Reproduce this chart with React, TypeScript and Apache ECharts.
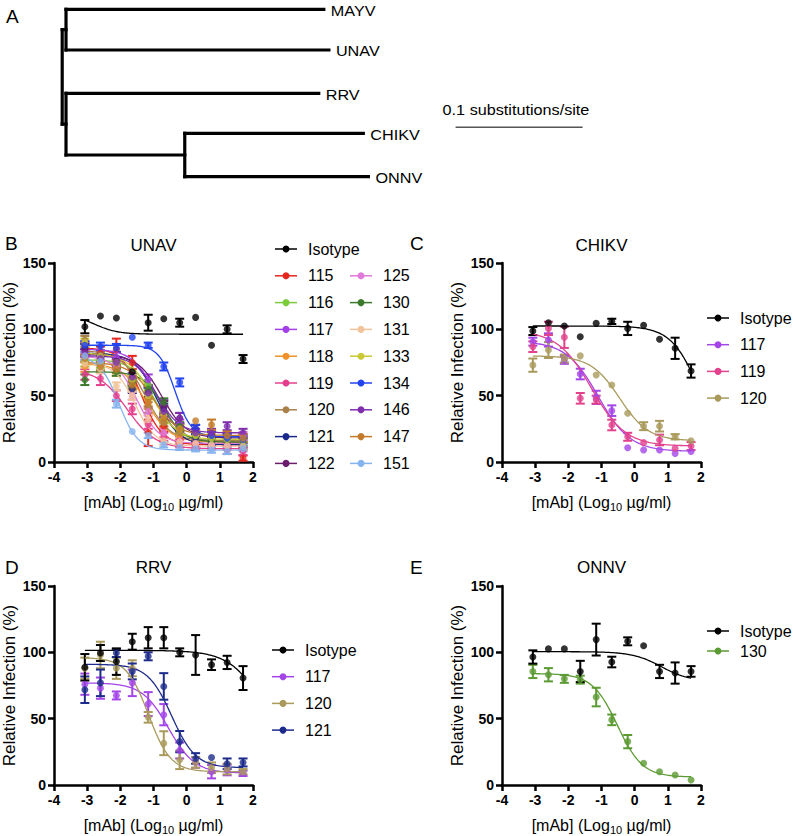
import React, { useEffect, useRef } from 'react';
import * as echarts from 'echarts';

const FONT = '"Liberation Sans", Arial, Helvetica, sans-serif';

// 3-fold dilution series, log10(µg/ml)
const doses = [-3.07, -2.6, -2.12, -1.64, -1.16, -0.69, -0.21, 0.27, 0.75, 1.22, 1.7];

// ---------- Panel B : UNAV ----------
const unavNames = ['Isotype', '115', '116', '117', '118', '119', '120', '121', '122', '125', '130', '131', '133', '134', '146', '147', '151'];
const unavColors = ['#000000', '#e5261f', '#7ccb3c', '#a33fe6', '#f0922b', '#e43f8d', '#a8814a', '#1b2a8a', '#6b1d6b', '#e07ad8', '#3b7a2a', '#f2c49c', '#c9c934', '#2244f0', '#7f2fae', '#c47a2a', '#86b4ee'];
const unavValues = [
  [102, 110, 108.5, 68, 105, 108, 105, 109, 88, 100, 77.6],
  [85, 82, 85, 75, 22, 27, 17, 14, 19, 13, 3],
  [76, 75, 73, 61, 58, 32, 23, 20, 18, 16, 13.6],
  [88, 80, 79, 63, 62, 42, 28, 18, 16, 15, 14],
  [72, 73, 69, 57, 44, 30, 20, 18, 15, 16, 15],
  [66, 63, 50, 40, 28, 19, 14, 12, 13, 9, 8],
  [92, 77, 73, 60, 41, 30, 22, 18, 17, 16, 15],
  [86, 80, 76, 55, 52, 40, 26, 18, 15, 13, 12],
  [84, 79, 76, 62, 53, 42, 33, 25, 20, 18, 18],
  [80, 78, 72, 50, 38, 22, 16, 14, 12, 13, 19.6],
  [62, 70, 68, 60, 55, 45, 27, 20, 17, 16, 15],
  [74, 70, 57, 50, 32, 16, 15, 14, 13, 12, 12],
  [90, 80, 75, 62, 50, 35, 25, 20, 18, 17, 17],
  [88, 87, 86, 94, 88, 72, 60, 25, 20, 18, 17],
  [82, 78, 75, 64, 52, 38, 33, 22, 22, 27, 22],
  [78, 72, 70, 58, 45, 33, 25, 31, 28, 20, 18],
  [80, 76, 44, 23, 20, 13, 11, 10, 9, 8, 10],
];
const unavErrors = [
  [5, 0, 0, 0, 6, 0, 3, 0, 0, 3, 3],
  [5, 5, 8, 5, 10, 4, 3, 3, 4, 3, 2],
  [4, 4, 3, 4, 4, 3, 3, 3, 3, 3, 3],
  [3, 4, 4, 4, 4, 5, 4, 3, 3, 3, 3],
  [4, 4, 4, 3, 4, 4, 3, 3, 3, 3, 3],
  [4, 5, 4, 4, 3, 3, 3, 3, 3, 3, 3],
  [3, 3, 3, 3, 4, 3, 3, 3, 3, 3, 3],
  [3, 3, 3, 3, 4, 4, 3, 3, 3, 3, 3],
  [3, 3, 3, 3, 4, 4, 4, 3, 3, 3, 3],
  [3, 3, 3, 3, 3, 3, 3, 3, 3, 3, 3],
  [4, 3, 3, 3, 3, 3, 3, 3, 3, 3, 3],
  [3, 3, 3, 3, 3, 3, 3, 3, 3, 3, 3],
  [3, 3, 3, 3, 3, 3, 3, 3, 3, 3, 3],
  [3, 3, 3, 0, 2, 3, 3, 3, 3, 3, 3],
  [3, 3, 3, 3, 4, 4, 4, 3, 3, 3, 3],
  [3, 3, 3, 3, 3, 3, 3, 0, 4, 3, 3],
  [3, 3, 3, 0, 2, 2, 2, 2, 2, 2, 2],
];
// fitted curve parameters [top, bottom, logIC50, hill]
const unavFits = [
  [112, 96.3, -2.8, 1.2],
  [86, 13, -1.35, 1.4],
  [77, 16, -0.95, 1.3],
  [85, 15, -0.9, 1.2],
  [74, 15, -1.2, 1.2],
  [70, 10, -1.8, 1.0],
  [84, 16, -1.25, 1.2],
  [82, 13, -0.9, 1.3],
  [81, 18, -0.75, 1.2],
  [80, 14, -1.5, 1.3],
  [68, 15, -0.7, 1.4],
  [75, 12, -1.55, 1.4],
  [82, 17, -1.05, 1.2],
  [88, 19, -0.35, 1.8],
  [80, 22, -0.9, 1.3],
  [75, 20, -1.0, 1.2],
  [80, 9, -2.05, 1.5],
];

// ---------- Panel C : CHIKV ----------
const chikvNames = ['Isotype', '117', '119', '120'];
const chikvColors = ['#000000', '#a445e8', '#e2418c', '#a99a5c'];
const chikvValues = [
  [98.7, 105, 102.5, 94.4, 104.5, 106, 100.7, 103, 92.5, 85.7, 68.6],
  [90.7, 92, 77, 66.3, 48.7, 38.7, 10.8, 9, 9, 6.5, 8],
  [86.9, 100.7, 94, 48, 47, 27.9, 19, 14.6, 16.6, 10.3, 12],
  [73, 84.4, 78, 80, 65.6, 58, 36.7, 27, 27, 19, 16],
];
const chikvErrors = [
  [3, 0, 0, 0, 0, 2, 5, 0, 0, 8, 5],
  [3, 5, 3, 4, 5, 4, 0, 0, 0, 0, 0],
  [4, 5, 8, 4, 3, 4, 3, 0, 4, 0, 3],
  [5, 6, 3, 0, 0, 0, 0, 3, 4, 2, 0],
];
const chikvFits = [
  [102.5, 0, 2.0, 1.0],
  [91, 8, -1.1, 0.9],
  [99, 12, -1.3, 0.85],
  [80, 16, -0.45, 1.0],
];

// ---------- Panel D : RRV ----------
const rrvNames = ['Isotype', '117', '120', '121'];
const rrvColors = ['#000000', '#a445e8', '#a99a5c', '#1d2c8a'];
const rrvValues = [
  [88.7, 99.5, 93, 108, 111, 111, 100, 98, 90.7, 92.4, 80.6],
  [76, 73, 67.5, 77, 61, 53, 26, 17, 10, 11.3, 8.8],
  [88, 98, 88, 88, 51, 31.5, 19, 17, 13, 12, 10],
  [71.8, 77, 99.5, 85.6, 97, 74.3, 32.7, 20, 20.7, 16, 17],
];
const rrvErrors = [
  [10, 6, 10, 6, 8, 8, 3, 15, 4, 5, 9],
  [8, 8, 3, 10, 9, 8, 6, 4, 5, 4, 2],
  [8, 10, 8, 6, 4, 9, 7, 4, 4, 4, 2],
  [10, 10, 3, 6, 3, 10, 8, 4, 0, 4, 3],
];
const rrvFits = [
  [101.5, 0, 2.5, 0.8],
  [77, 9, -0.55, 1.1],
  [96, 10, -1.15, 1.3],
  [91, 13, -0.45, 1.2],
];

// ---------- Panel E : ONNV ----------
const onnvNames = ['Isotype', '130'];
const onnvColors = ['#000000', '#5c9a33'];
const onnvValues = [
  [96.5, 102.6, 102.6, 85.6, 109.6, 92.7, 108.3, 105, 85.6, 84.4, 85.6],
  [85.6, 83.1, 80, 79.4, 66.3, 49.1, 32.7, 16.4, 10, 7.6, 3.8],
];
const onnvErrors = [
  [5, 0, 0, 8, 12, 4, 3, 0, 5, 8, 4],
  [5, 5, 3, 3, 7, 4, 5, 0, 0, 0, 0],
];
const onnvFits = [
  [100.5, 78, 0.8, 1.0],
  [84, 6, -0.52, 1.15],
];

// ---------- Panel A : tree (branch lengths, substitutions/site) ----------
const treeTaxa = ['MAYV', 'UNAV', 'RRV', 'CHIKV', 'ONNV'];
const treeTerminal = [0.203, 0.207, 0.199, 0.1406, 0.1446];
const treeCladeStem = 0.003;
const treeChikOnnInternal = 0.0935;
const treeScaleBar = 0.1;

const xTicks = [-4, -3, -2, -1, 0, 1, 2];
const yTicks = [0, 50, 100, 150];

function fit4pl(x: number, p: number[]) {
  const [top, bottom, ic50, hill] = p;
  return bottom + (top - bottom) / (1 + Math.pow(10, (x - ic50) * hill));
}

const curveX = Array.from({ length: 121 }, (_, i) => doses[0] + ((doses[doses.length - 1] - doses[0]) * i) / 120);

function errRender(color: string) {
  return (params: any, api: any) => {
    const x = api.value(0);
    const y = api.value(1);
    const e = api.value(2);
    if (!e) return { type: 'group', children: [] };
    const t = api.coord([x, y + e]);
    const b = api.coord([x, y - e]);
    const hw = 4.5;
    const st = { stroke: color, lineWidth: 2 };
    return {
      type: 'group',
      children: [
        { type: 'line', shape: { x1: t[0], y1: t[1], x2: b[0], y2: b[1] }, style: st },
        { type: 'line', shape: { x1: t[0] - hw, y1: t[1], x2: t[0] + hw, y2: t[1] }, style: st },
        { type: 'line', shape: { x1: b[0] - hw, y1: b[1], x2: b[0] + hw, y2: b[1] }, style: st },
      ],
    };
  };
}

function panelSeries(gi: number, names: string[], colors: string[], values: number[][], errors: number[][], fits: number[][]) {
  const out: any[] = [];
  const order = names.map((_, i) => i).slice(1).concat([0]);
  order.forEach((i) => {
    const color = colors[i];
    out.push({
      type: 'line', name: names[i] + ' fit', xAxisIndex: gi, yAxisIndex: gi, silent: true,
      data: curveX.map((x) => [x, fit4pl(x, fits[i])]),
      showSymbol: false, symbol: 'none', lineStyle: { color, width: 1.3 }, z: 2,
    });
    out.push({
      type: 'custom', name: names[i] + ' sem', xAxisIndex: gi, yAxisIndex: gi, silent: true,
      data: doses.map((d, k) => [d, values[i][k], errors[i][k]]),
      encode: { x: 0, y: 1 }, renderItem: errRender(color), z: 2,
    });
    out.push({
      type: 'scatter', name: names[i], xAxisIndex: gi, yAxisIndex: gi, silent: true,
      data: doses.map((d, k) => [d, values[i][k]]),
      symbol: 'circle', symbolSize: 7, itemStyle: { color }, z: 2,
    });
  });
  return out;
}

function legendGraphic(names: string[], colors: string[], x0: number, y0: number, dy: number, perCol: number, dx: number) {
  const els: any[] = [];
  names.forEach((n, i) => {
    const col = Math.floor(i / perCol);
    const row = i % perCol + (col > 0 ? 1 : 0);
    const x = x0 + col * dx;
    const y = y0 + row * dy;
    els.push({ type: 'line', shape: { x1: x, y1: y, x2: x + 22, y2: y }, style: { stroke: colors[i], lineWidth: 1.5 } });
    els.push({ type: 'circle', shape: { cx: x + 11, cy: y, r: 3.5 }, style: { fill: colors[i] } });
    els.push({ type: 'text', x: x + 33, y, style: { text: n, fontSize: 16, fontFamily: FONT, fill: '#000', verticalAlign: 'middle', align: 'left' } });
  });
  return els;
}

function treeGraphic() {
  const pxPerUnit = 1270;
  const rootX = 62.2;
  const rows = [9.3, 50, 93.3, 133.3, 176.7];
  const cladeX = rootX + treeCladeStem * pxPerUnit;
  const subX = cladeX + treeChikOnnInternal * pxPerUnit;
  const starts = [cladeX, cladeX, cladeX, subX, subX];
  const st = { stroke: '#000', lineWidth: 3.2, lineCap: 'square' };
  const els: any[] = [];
  const seg = (x1: number, y1: number, x2: number, y2: number, s: any = st) =>
    els.push({ type: 'line', shape: { x1, y1, x2, y2 }, style: s });
  const subY = (rows[3] + rows[4]) / 2;
  const upMid = (rows[0] + rows[1]) / 2;
  const lowMid = (rows[2] + subY) / 2;
  seg(rootX, upMid, rootX, lowMid);
  seg(rootX, upMid, cladeX, upMid);
  seg(rootX, lowMid, cladeX, lowMid);
  seg(cladeX, rows[0], cladeX, rows[1]);
  seg(cladeX, rows[2], cladeX, subY);
  seg(cladeX, subY, subX, subY);
  seg(subX, rows[3], subX, rows[4]);
  treeTaxa.forEach((t, i) => {
    const end = starts[i] + treeTerminal[i] * pxPerUnit;
    seg(starts[i], rows[i], end, rows[i]);
    els.push({ type: 'text', x: end + 7, y: rows[i] + 1, scaleX: 1.08, style: { text: t, fontSize: 15, fontFamily: FONT, fill: '#000', verticalAlign: 'middle', align: 'left' } });
  });
  const sbX = 455.6;
  const sbY = 127.3;
  seg(sbX, sbY, sbX + treeScaleBar * pxPerUnit, sbY, { stroke: '#555', lineWidth: 1.6 });
  els.push({ type: 'text', x: 516, y: 110, scaleX: 1.08, style: { text: treeScaleBar + ' substitutions/site', fontSize: 15, fontFamily: FONT, fill: '#000', verticalAlign: 'middle', align: 'center' } });
  return els;
}

function buildOption() {
  const grids = [
    { left: 54, top: 263, width: 199, height: 199 },
    { left: 502, top: 263, width: 199, height: 199 },
    { left: 54, top: 586, width: 199, height: 199 },
    { left: 502, top: 586, width: 199, height: 199 },
  ];
  const axisLine = { show: true, onZero: false, lineStyle: { color: '#000', width: 2.5 } };
  const axisTick = { show: true, length: 6, lineStyle: { color: '#000', width: 2.5 } };
  const axisLabel = { color: '#000', fontSize: 14, fontWeight: 'bold', fontFamily: FONT, margin: 8 };
  const xAxis = grids.map((_, i) => ({
    type: 'value', gridIndex: i, min: xTicks[0], max: xTicks[xTicks.length - 1], interval: 1,
    axisLine, axisTick, axisLabel, splitLine: { show: false },
    name: '[mAb] (Log{sub|10} µg/ml)', nameLocation: 'middle', nameGap: 30,
    nameTextStyle: {
      color: '#000', fontSize: 16, fontFamily: FONT,
      rich: { sub: { fontSize: 11, fontFamily: FONT, color: '#000', padding: [9, 0, 0, 0], verticalAlign: 'bottom' } },
    },
  }));
  const yAxis = grids.map((_, i) => ({
    type: 'value', gridIndex: i, min: yTicks[0], max: yTicks[yTicks.length - 1], interval: 50,
    axisLine, axisTick, axisLabel, splitLine: { show: false },
    name: 'Relative Infection (%)', nameLocation: 'middle', nameGap: 36, nameRotate: 90,
    nameTextStyle: { color: '#000', fontSize: 17, fontFamily: FONT },
  }));
  const series = [
    ...panelSeries(0, unavNames, unavColors, unavValues, unavErrors, unavFits),
    ...panelSeries(1, chikvNames, chikvColors, chikvValues, chikvErrors, chikvFits),
    ...panelSeries(2, rrvNames, rrvColors, rrvValues, rrvErrors, rrvFits),
    ...panelSeries(3, onnvNames, onnvColors, onnvValues, onnvErrors, onnvFits),
  ];
  const title = (t: string, x: number, y: number) => ({ type: 'text', x, y, style: { text: t, fontSize: 17, fontFamily: FONT, fill: '#000', align: 'center', verticalAlign: 'middle' } });
  const letter = (t: string, x: number, y: number) => ({ type: 'text', x, y, style: { text: t, fontSize: 19, fontFamily: FONT, fill: '#000', align: 'left', verticalAlign: 'middle' } });
  const graphic = [
    ...treeGraphic(),
    letter('A', 6, 16), letter('B', 5, 243), letter('C', 410, 243), letter('D', 5, 567), letter('E', 410, 567),
    title('UNAV', 153.5, 245), title('CHIKV', 601.5, 245), title('RRV', 153.5, 567), title('ONNV', 601.5, 567),
    ...legendGraphic(unavNames, unavColors, 275, 249, 26.8, 9, 75),
    ...legendGraphic(chikvNames, chikvColors, 707, 318, 26.7, 99, 0),
    ...legendGraphic(rrvNames, rrvColors, 272, 650, 26.7, 99, 0),
    ...legendGraphic(onnvNames, onnvColors, 707, 631, 20, 99, 0),
  ];
  return { animation: false, backgroundColor: '#fff', grid: grids, xAxis, yAxis, series, graphic };
}

export default function App() {
  const ref = useRef<HTMLDivElement>(null);
  useEffect(() => {
    const chart = echarts.init(ref.current as HTMLDivElement, null, { renderer: 'svg' });
    chart.setOption(buildOption() as any);
    return () => chart.dispose();
  }, []);
  return <div ref={ref} style={{ position: 'absolute', left: 0, top: 0, width: 793, height: 836, background: '#fff' }} />;
}
